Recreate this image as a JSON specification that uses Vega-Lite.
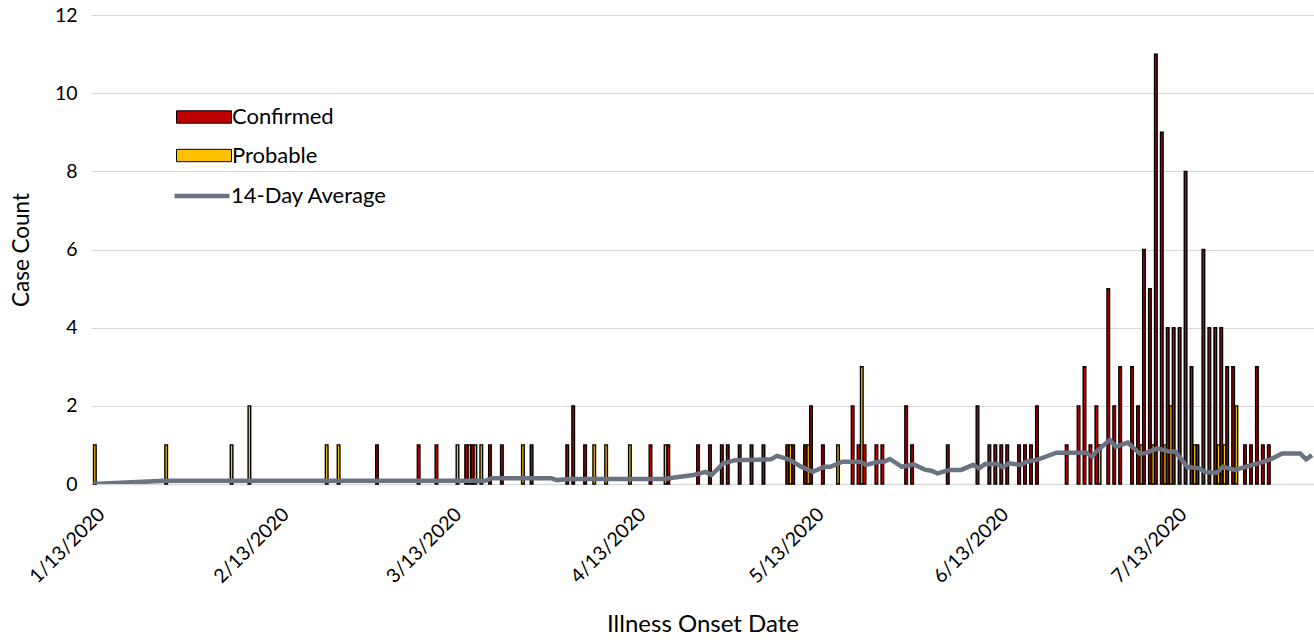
{
  "$schema": "https://vega.github.io/schema/vega-lite/v6.json",
  "width": 1223,
  "height": 469,
  "autosize": {"type": "none"},
  "padding": {"left": 91, "top": 15, "right": 0, "bottom": 156},
  "config": {"font": "Lato", "view": {"stroke": null}},
  "datasets": {
    "cases": [
      {"date": "2020/01/13", "status": "Probable", "count": 1},
      {"date": "2020/01/25", "status": "Probable", "count": 1},
      {"date": "2020/02/05", "status": "Probable", "count": 1},
      {"date": "2020/02/08", "status": "Probable", "count": 2},
      {"date": "2020/02/21", "status": "Probable", "count": 1},
      {"date": "2020/02/23", "status": "Probable", "count": 1},
      {"date": "2020/03/01", "status": "Confirmed", "count": 1},
      {"date": "2020/03/08", "status": "Confirmed", "count": 1},
      {"date": "2020/03/11", "status": "Confirmed", "count": 1},
      {"date": "2020/03/14", "status": "Probable", "count": 1},
      {"date": "2020/03/16", "status": "Confirmed", "count": 1},
      {"date": "2020/03/16", "status": "Probable", "count": 1},
      {"date": "2020/03/17", "status": "Confirmed", "count": 1},
      {"date": "2020/03/17", "status": "Probable", "count": 1},
      {"date": "2020/03/18", "status": "Probable", "count": 1},
      {"date": "2020/03/20", "status": "Confirmed", "count": 1},
      {"date": "2020/03/22", "status": "Confirmed", "count": 1},
      {"date": "2020/03/25", "status": "Probable", "count": 1},
      {"date": "2020/03/27", "status": "Confirmed", "count": 1},
      {"date": "2020/04/02", "status": "Confirmed", "count": 1},
      {"date": "2020/04/03", "status": "Confirmed", "count": 2},
      {"date": "2020/04/05", "status": "Confirmed", "count": 1},
      {"date": "2020/04/06", "status": "Probable", "count": 1},
      {"date": "2020/04/08", "status": "Probable", "count": 1},
      {"date": "2020/04/12", "status": "Probable", "count": 1},
      {"date": "2020/04/16", "status": "Confirmed", "count": 1},
      {"date": "2020/04/18", "status": "Probable", "count": 1},
      {"date": "2020/04/19", "status": "Confirmed", "count": 1},
      {"date": "2020/04/24", "status": "Confirmed", "count": 1},
      {"date": "2020/04/26", "status": "Confirmed", "count": 1},
      {"date": "2020/04/28", "status": "Confirmed", "count": 1},
      {"date": "2020/04/29", "status": "Confirmed", "count": 1},
      {"date": "2020/05/01", "status": "Confirmed", "count": 1},
      {"date": "2020/05/03", "status": "Confirmed", "count": 1},
      {"date": "2020/05/05", "status": "Confirmed", "count": 1},
      {"date": "2020/05/09", "status": "Confirmed", "count": 1},
      {"date": "2020/05/09", "status": "Probable", "count": 1},
      {"date": "2020/05/10", "status": "Confirmed", "count": 1},
      {"date": "2020/05/12", "status": "Confirmed", "count": 1},
      {"date": "2020/05/12", "status": "Probable", "count": 1},
      {"date": "2020/05/13", "status": "Confirmed", "count": 2},
      {"date": "2020/05/15", "status": "Confirmed", "count": 1},
      {"date": "2020/05/17", "status": "Probable", "count": 1},
      {"date": "2020/05/20", "status": "Confirmed", "count": 2},
      {"date": "2020/05/21", "status": "Confirmed", "count": 1},
      {"date": "2020/05/21", "status": "Probable", "count": 3},
      {"date": "2020/05/22", "status": "Confirmed", "count": 1},
      {"date": "2020/05/24", "status": "Confirmed", "count": 1},
      {"date": "2020/05/25", "status": "Confirmed", "count": 1},
      {"date": "2020/05/29", "status": "Confirmed", "count": 2},
      {"date": "2020/05/30", "status": "Confirmed", "count": 1},
      {"date": "2020/06/05", "status": "Confirmed", "count": 1},
      {"date": "2020/06/10", "status": "Confirmed", "count": 2},
      {"date": "2020/06/12", "status": "Confirmed", "count": 1},
      {"date": "2020/06/13", "status": "Confirmed", "count": 1},
      {"date": "2020/06/14", "status": "Confirmed", "count": 1},
      {"date": "2020/06/15", "status": "Confirmed", "count": 1},
      {"date": "2020/06/17", "status": "Confirmed", "count": 1},
      {"date": "2020/06/18", "status": "Confirmed", "count": 1},
      {"date": "2020/06/19", "status": "Confirmed", "count": 1},
      {"date": "2020/06/20", "status": "Confirmed", "count": 2},
      {"date": "2020/06/25", "status": "Confirmed", "count": 1},
      {"date": "2020/06/27", "status": "Confirmed", "count": 2},
      {"date": "2020/06/28", "status": "Confirmed", "count": 3},
      {"date": "2020/06/29", "status": "Confirmed", "count": 1},
      {"date": "2020/06/30", "status": "Confirmed", "count": 2},
      {"date": "2020/06/30", "status": "Probable", "count": 1},
      {"date": "2020/07/02", "status": "Confirmed", "count": 5},
      {"date": "2020/07/03", "status": "Confirmed", "count": 2},
      {"date": "2020/07/04", "status": "Confirmed", "count": 3},
      {"date": "2020/07/06", "status": "Confirmed", "count": 3},
      {"date": "2020/07/07", "status": "Confirmed", "count": 2},
      {"date": "2020/07/07", "status": "Probable", "count": 1},
      {"date": "2020/07/08", "status": "Confirmed", "count": 6},
      {"date": "2020/07/09", "status": "Confirmed", "count": 5},
      {"date": "2020/07/09", "status": "Probable", "count": 1},
      {"date": "2020/07/10", "status": "Confirmed", "count": 11},
      {"date": "2020/07/11", "status": "Confirmed", "count": 9},
      {"date": "2020/07/11", "status": "Probable", "count": 1},
      {"date": "2020/07/12", "status": "Confirmed", "count": 4},
      {"date": "2020/07/12", "status": "Probable", "count": 2},
      {"date": "2020/07/13", "status": "Confirmed", "count": 4},
      {"date": "2020/07/14", "status": "Confirmed", "count": 4},
      {"date": "2020/07/15", "status": "Confirmed", "count": 8},
      {"date": "2020/07/16", "status": "Confirmed", "count": 3},
      {"date": "2020/07/16", "status": "Probable", "count": 1},
      {"date": "2020/07/17", "status": "Confirmed", "count": 1},
      {"date": "2020/07/18", "status": "Confirmed", "count": 6},
      {"date": "2020/07/19", "status": "Confirmed", "count": 4},
      {"date": "2020/07/20", "status": "Confirmed", "count": 4},
      {"date": "2020/07/20", "status": "Probable", "count": 1},
      {"date": "2020/07/21", "status": "Confirmed", "count": 4},
      {"date": "2020/07/21", "status": "Probable", "count": 1},
      {"date": "2020/07/22", "status": "Confirmed", "count": 3},
      {"date": "2020/07/23", "status": "Confirmed", "count": 3},
      {"date": "2020/07/23", "status": "Probable", "count": 2},
      {"date": "2020/07/25", "status": "Confirmed", "count": 1},
      {"date": "2020/07/26", "status": "Confirmed", "count": 1},
      {"date": "2020/07/27", "status": "Confirmed", "count": 3},
      {"date": "2020/07/28", "status": "Confirmed", "count": 1},
      {"date": "2020/07/29", "status": "Confirmed", "count": 1}
    ],
    "avg": [
      {"date": "2020/01/13", "avg": 0.0},
      {"date": "2020/01/25", "avg": 0.08},
      {"date": "2020/03/19", "avg": 0.08},
      {"date": "2020/03/20", "avg": 0.15},
      {"date": "2020/03/30", "avg": 0.15},
      {"date": "2020/03/31", "avg": 0.1},
      {"date": "2020/04/02", "avg": 0.13},
      {"date": "2020/04/18", "avg": 0.13},
      {"date": "2020/04/21", "avg": 0.19},
      {"date": "2020/04/23", "avg": 0.23},
      {"date": "2020/04/25", "avg": 0.31},
      {"date": "2020/04/26", "avg": 0.23},
      {"date": "2020/04/28", "avg": 0.53},
      {"date": "2020/04/30", "avg": 0.61},
      {"date": "2020/05/06", "avg": 0.63},
      {"date": "2020/05/07", "avg": 0.72},
      {"date": "2020/05/09", "avg": 0.63},
      {"date": "2020/05/11", "avg": 0.45},
      {"date": "2020/05/13", "avg": 0.31},
      {"date": "2020/05/15", "avg": 0.44},
      {"date": "2020/05/16", "avg": 0.44},
      {"date": "2020/05/18", "avg": 0.57},
      {"date": "2020/05/21", "avg": 0.57},
      {"date": "2020/05/22", "avg": 0.49},
      {"date": "2020/05/24", "avg": 0.57},
      {"date": "2020/05/25", "avg": 0.57},
      {"date": "2020/05/26", "avg": 0.64},
      {"date": "2020/05/28", "avg": 0.44},
      {"date": "2020/05/30", "avg": 0.5},
      {"date": "2020/06/01", "avg": 0.36},
      {"date": "2020/06/02", "avg": 0.34},
      {"date": "2020/06/03", "avg": 0.27},
      {"date": "2020/06/05", "avg": 0.36},
      {"date": "2020/06/07", "avg": 0.36},
      {"date": "2020/06/09", "avg": 0.49},
      {"date": "2020/06/10", "avg": 0.4},
      {"date": "2020/06/11", "avg": 0.51},
      {"date": "2020/06/13", "avg": 0.51},
      {"date": "2020/06/14", "avg": 0.43},
      {"date": "2020/06/15", "avg": 0.53},
      {"date": "2020/06/17", "avg": 0.49},
      {"date": "2020/06/18", "avg": 0.57},
      {"date": "2020/06/20", "avg": 0.63},
      {"date": "2020/06/23", "avg": 0.8},
      {"date": "2020/06/28", "avg": 0.8},
      {"date": "2020/06/29", "avg": 0.7},
      {"date": "2020/06/30", "avg": 0.87},
      {"date": "2020/07/02", "avg": 1.13},
      {"date": "2020/07/03", "avg": 0.95},
      {"date": "2020/07/05", "avg": 1.06},
      {"date": "2020/07/07", "avg": 0.78},
      {"date": "2020/07/08", "avg": 0.79},
      {"date": "2020/07/10", "avg": 0.91},
      {"date": "2020/07/12", "avg": 0.83},
      {"date": "2020/07/13", "avg": 0.83},
      {"date": "2020/07/15", "avg": 0.44},
      {"date": "2020/07/17", "avg": 0.4},
      {"date": "2020/07/18", "avg": 0.31},
      {"date": "2020/07/20", "avg": 0.29},
      {"date": "2020/07/21", "avg": 0.44},
      {"date": "2020/07/23", "avg": 0.36},
      {"date": "2020/07/26", "avg": 0.49},
      {"date": "2020/07/27", "avg": 0.53},
      {"date": "2020/07/29", "avg": 0.63},
      {"date": "2020/07/31", "avg": 0.78},
      {"date": "2020/08/03", "avg": 0.78},
      {"date": "2020/08/04", "avg": 0.63},
      {"date": "2020/08/05", "avg": 0.74}
    ]
  },
  "encoding": {
    "x": {
      "field": "date",
      "type": "temporal",
      "scale": {
        "nice": false,
        "padding": 0,
        "domain": [
          {"year": 2020, "month": 1, "date": 12, "hours": 15},
          {"year": 2020, "month": 8, "date": 5, "hours": 8}
        ]
      },
      "axis": {
        "title": "Illness Onset Date",
        "titleFontSize": 24,
        "titleFontWeight": "normal",
        "titleColor": "#000",
        "titlePadding": 26,
        "values": [
          {"year": 2020, "month": 1, "date": 13},
          {"year": 2020, "month": 2, "date": 13},
          {"year": 2020, "month": 3, "date": 13},
          {"year": 2020, "month": 4, "date": 13},
          {"year": 2020, "month": 5, "date": 13},
          {"year": 2020, "month": 6, "date": 13},
          {"year": 2020, "month": 7, "date": 13}
        ],
        "format": "%-m/%-d/%Y",
        "labelAngle": -45,
        "labelAlign": "right",
        "labelBaseline": "middle",
        "labelFontSize": 19.5,
        "labelColor": "#000",
        "labelPadding": 27,
        "labelOffset": 8,
        "ticks": false,
        "grid": false,
        "domain": true,
        "domainColor": "#D9D9D9",
        "domainWidth": 1.5
      }
    }
  },
  "layer": [
    {
      "data": {"name": "cases"},
      "transform": [{"filter": "datum.status === 'Confirmed'"}],
      "mark": {"type": "bar", "width": 2.6, "xOffset": -1.6, "stroke": "#000", "strokeWidth": 1.4},
      "encoding": {
        "y": {
          "field": "count",
          "type": "quantitative",
          "scale": {"domain": [0, 12]},
          "axis": {
            "title": "Case Count",
            "titleFontSize": 22.5,
            "titleFontWeight": "normal",
            "titleColor": "#000",
            "titlePadding": 21,
            "values": [0, 2, 4, 6, 8, 10, 12],
            "labelFontSize": 19.5,
            "labelColor": "#000",
            "labelPadding": 14,
            "ticks": false,
            "domain": false,
            "grid": true,
            "gridColor": "#D9D9D9",
            "gridWidth": 1.2
          }
        },
        "fill": {
          "field": "status",
          "type": "nominal",
          "scale": {"domain": ["Confirmed", "Probable"], "range": ["#C00000", "#FFC000"]},
          "legend": {
            "title": null,
            "orient": "none",
            "legendX": 102,
            "legendY": 91,
            "padding": 0,
            "symbolType": "M-4,-0.9H4V0.9H-4Z",
            "symbolSize": 189,
            "symbolStrokeColor": "#000",
            "symbolStrokeWidth": 1,
            "symbolOpacity": 1,
            "labelFontSize": 22,
            "labelColor": "#000",
            "labelOffset": 17,
            "rowPadding": 16.5
          }
        }
      }
    },
    {
      "data": {"name": "cases"},
      "transform": [{"filter": "datum.status === 'Probable'"}],
      "mark": {"type": "bar", "width": 2.6, "xOffset": 1.6, "stroke": "#000", "strokeWidth": 1.4},
      "encoding": {
        "y": {"field": "count", "type": "quantitative"},
        "fill": {"field": "status", "type": "nominal"}
      }
    },
    {
      "data": {"name": "avg"},
      "mark": {"type": "line", "strokeWidth": 4.5, "clip": true},
      "encoding": {
        "y": {"field": "avg", "type": "quantitative", "axis": {"title": "Case Count"}},
        "stroke": {
          "datum": "14-Day Average",
          "scale": {"range": ["#6B7382"]},
          "legend": {
            "title": null,
            "orient": "none",
            "legendX": 100,
            "legendY": 170,
            "padding": 0,
            "symbolType": "M-4,0H4",
            "symbolSize": 189,
            "symbolStrokeWidth": 4.5,
            "labelFontSize": 22,
            "labelColor": "#000",
            "labelOffset": 18
          }
        }
      }
    }
  ]
}
